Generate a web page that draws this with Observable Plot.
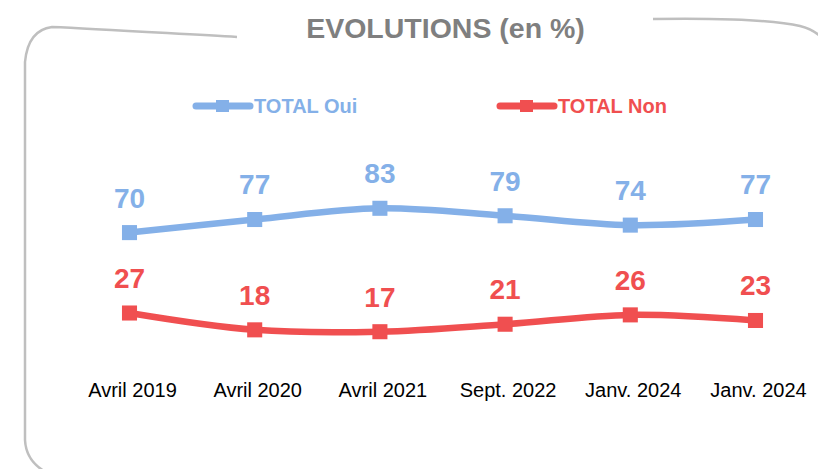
<!DOCTYPE html>
<html>
<head>
<meta charset="utf-8">
<script src="https://cdn.jsdelivr.net/npm/d3@7"></script>
<script src="https://cdn.jsdelivr.net/npm/@observablehq/plot@0.6"></script>
<style>
  html, body { margin: 0; padding: 0; background: #fff; }
  #wrap { position: relative; width: 818px; height: 469px; overflow: hidden; font-family: Arial, "Liberation Sans", sans-serif; }
  #deco { position: absolute; left: 0; top: 0; }
  #chart { position: absolute; left: 0; top: 0; }
  .title { position: absolute; top: 12px; left: 0; width: 891px; text-align: center; font-size: 28.5px; font-weight: bold; color: #7F7F7F; }
  .leg { position: absolute; top: 95px; font-size: 20px; font-weight: bold; }
</style>
</head>
<body>
<div id="wrap">
  <svg id="deco" width="818" height="469">
    <path d="M237 37 C180 34 100 29 52 27 Q28 30 25 62 L25 440 Q26 460 44 471" fill="none" stroke="#BFBFBF" stroke-width="2.5"/>
    <path d="M653 19 C700 18 770 19 800 26 Q812 29 820 36" fill="none" stroke="#BFBFBF" stroke-width="2.5"/>
    <line x1="196" y1="106" x2="250" y2="106" stroke="#84B0E8" stroke-width="7" stroke-linecap="round"/>
    <rect x="216" y="100" width="13" height="12" fill="#84B0E8"/>
    <line x1="500" y1="106" x2="554" y2="106" stroke="#F04F50" stroke-width="7" stroke-linecap="round"/>
    <rect x="520" y="100" width="13" height="12" fill="#F04F50"/>
  </svg>
  <div id="chart"></div>
  <div class="title">EVOLUTIONS (en %)</div>
  <div class="leg" style="left:254px;color:#84B0E8">TOTAL Oui</div>
  <div class="leg" style="left:558px;color:#F04F50">TOTAL Non</div>
</div>
<script>
const periods = ["Avril 2019", "Avril 2020", "Avril 2021", "Sept. 2022", "Janv. 2024", "Janv. 2024"];
const totalOui = [70, 77, 83, 79, 74, 77];
const totalNon = [27, 18, 17, 21, 26, 23];
const seriesNames = ["TOTAL Oui", "TOTAL Non"];
const seriesColors = ["#84B0E8", "#F04F50"];

const rows = [];
periods.forEach((p, i) => {
  rows.push({i, period: p, series: seriesNames[0], value: totalOui[i]});
  rows.push({i, period: p, series: seriesNames[1], value: totalNon[i]});
});

const chart = Plot.plot({
  width: 818,
  height: 469,
  marginLeft: 129,
  marginRight: 63,
  marginTop: 176,
  marginBottom: 106,
  style: {fontFamily: 'Arial, "Liberation Sans", sans-serif', background: "transparent"},
  x: {type: "linear", domain: [0, periods.length - 1], axis: null, label: null},
  y: {domain: [0, 100], axis: null},
  color: {domain: seriesNames, range: seriesColors},
  marks: [
    Plot.axisX({
      ticks: d3.range(periods.length),
      tickFormat: i => periods[i],
      tickSize: 0,
      tickPadding: 19,
      fontSize: 20,
      color: "#000",
      label: null,
      dx: 3
    }),
    Plot.line(rows, {x: "i", y: "value", z: "series", stroke: "series", strokeWidth: 6.5, curve: "catmull-rom"}),
    Plot.dot(rows, {x: "i", y: "value", fill: "series", symbol: "square", r: 8.5}),
    Plot.text(rows, {x: "i", y: "value", text: d => String(d.value), fill: "series", dy: -34, fontSize: 28, fontWeight: "bold"})
  ]
});
document.getElementById("chart").appendChild(chart);
</script>
</body>
</html>
